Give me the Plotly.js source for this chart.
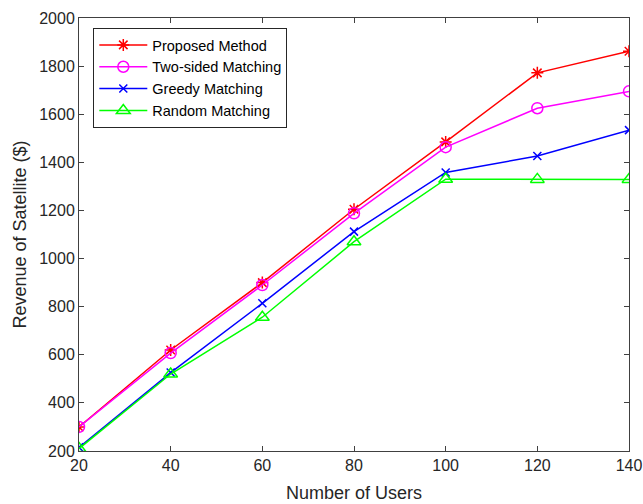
<!DOCTYPE html>
<html>
<head>
<meta charset="utf-8">
<script src="https://cdn.plot.ly/plotly-3.0.1.min.js"></script>
<style>html,body{margin:0;padding:0;background:#fff;}#chart{width:643px;height:504px;}</style>
</head>
<body>
<div id="chart"></div>
<script>
const users = [20, 40, 60, 80, 100, 120, 140];
const proposed = [300, 620, 900, 1205, 1485, 1772, 1862];
const twoSided = [300, 607, 890, 1188, 1463, 1625, 1695];
const greedy = [215, 526, 814, 1112, 1358, 1426, 1534];
const randomM = [210, 520, 756, 1070, 1330, 1329, 1329];
const seriesNames = ['Proposed Method', 'Two-sided Matching', 'Greedy Matching', 'Random Matching'];
const xTicks = [20, 40, 60, 80, 100, 120, 140];
const yTicks = [200, 400, 600, 800, 1000, 1200, 1400, 1600, 1800, 2000];

const colors = ['#ff0000', '#ff00ff', '#0000ff', '#00ff00'];
const symbols = ['asterisk-open', 'circle-open', 'x-thin-open', 'triangle-up-open'];
const sizes = [10, 11, 8, 12];
const ys = [proposed, twoSided, greedy, randomM];
const FONT = 'Liberation Sans, Arial, sans-serif';

const traces = ys.map((y, i) => ({
  x: users, y: y, name: seriesNames[i], type: 'scatter', mode: 'lines+markers',
  line: {color: colors[i], width: 1.5},
  marker: {symbol: symbols[i], size: sizes[i], color: colors[i], line: {color: colors[i], width: 1.5}}
}));

const axisCommon = {
  showline: true, linecolor: '#404040', linewidth: 1, mirror: 'ticks',
  ticks: 'inside', ticklen: 5, tickcolor: '#404040', showgrid: false, zeroline: false,
  ticklabeloverflow: 'allow',
  tickfont: {family: FONT, size: 16, color: '#262626'}
};

const layout = {
  width: 643, height: 504,
  margin: {l: 79, r: 14, t: 18, b: 53},
  paper_bgcolor: '#ffffff', plot_bgcolor: '#ffffff',
  showlegend: true,
  legend: {
    x: 0.026, y: 0.977, xanchor: 'left', yanchor: 'top',
    bgcolor: '#ffffff', bordercolor: '#262626', borderwidth: 1,
    font: {family: FONT, size: 14.5, color: '#000000'},
    itemwidth: 48, tracegroupgap: 0
  },
  xaxis: Object.assign({}, axisCommon, {
    range: [20, 140], tickvals: xTicks, ticktext: xTicks.map(String),
    title: {text: 'Number of Users', standoff: 13, font: {family: FONT, size: 18, color: '#262626'}}
  }),
  yaxis: Object.assign({}, axisCommon, {
    range: [200, 2000], tickvals: yTicks, ticktext: yTicks.map(String),
    title: {text: 'Revenue of Satellite ($)', standoff: 7, font: {family: FONT, size: 18, color: '#262626'}}
  })
};

Plotly.newPlot('chart', traces, layout, {displayModeBar: false, staticPlot: true});
</script>
</body>
</html>
